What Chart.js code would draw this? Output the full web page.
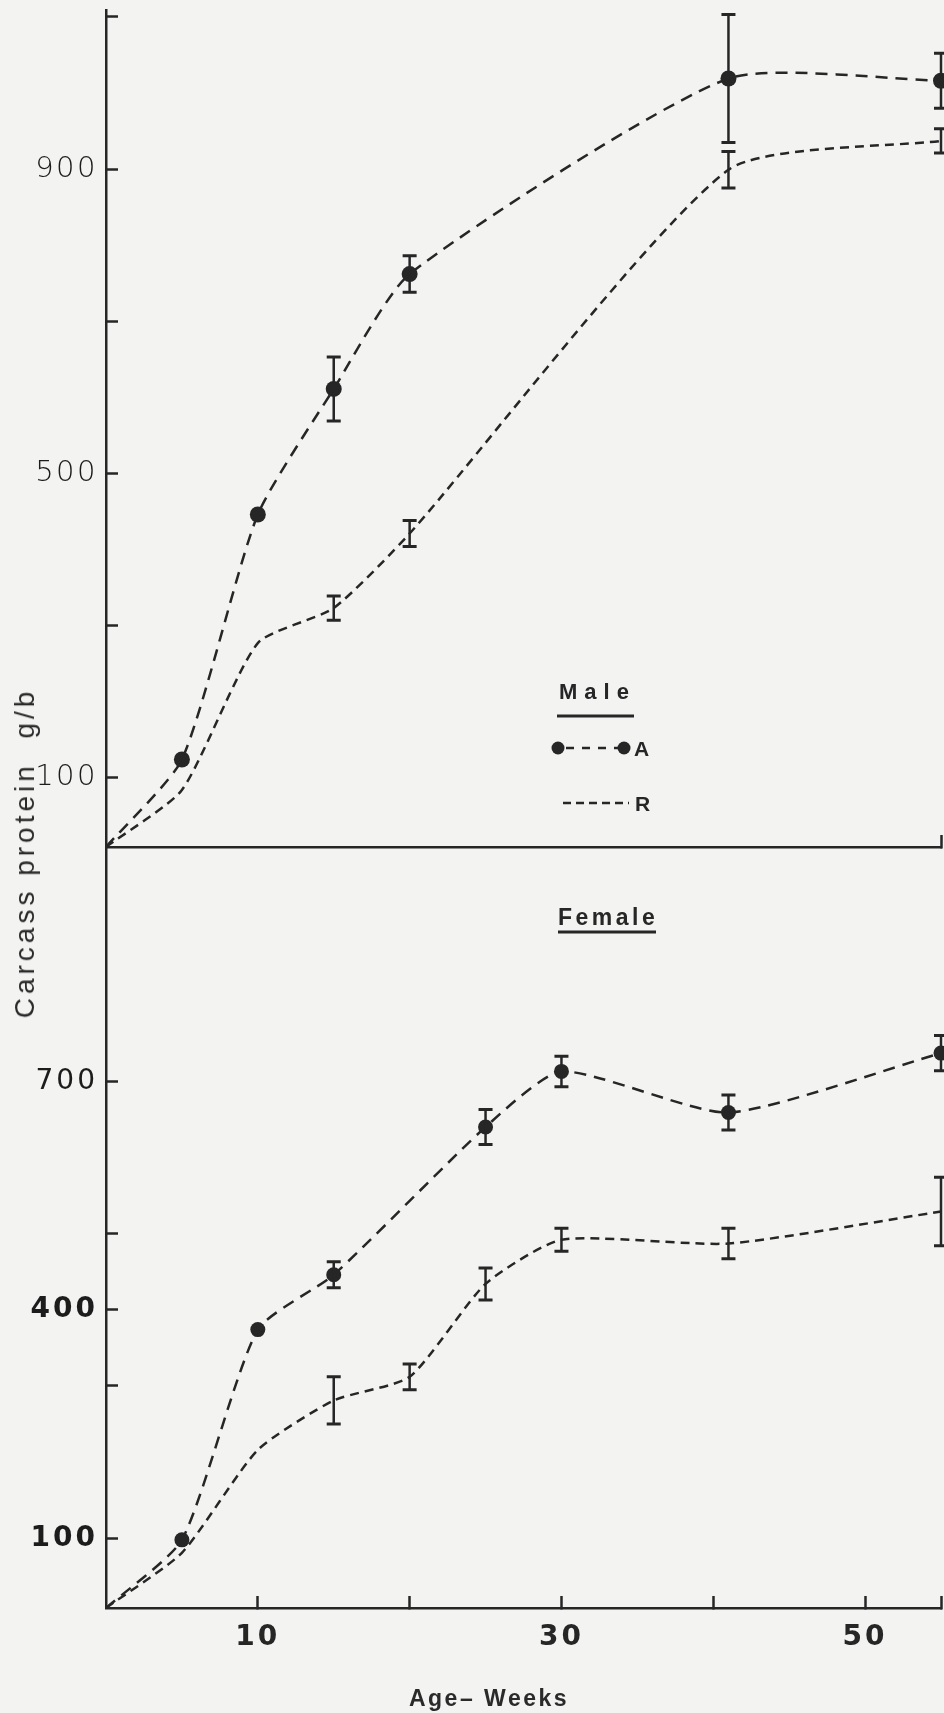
<!DOCTYPE html>
<html>
<head>
<meta charset="utf-8">
<script src="https://cdn.jsdelivr.net/npm/chart.js@4.4.0/dist/chart.umd.min.js"></script>
<style>
  html, body { margin: 0; padding: 0; }
  body { width: 944px; height: 1713px; overflow: hidden; position: relative; background: #f3f3f2; }
  canvas { position: absolute; left: 0; }
  #maleChart { top: -50px; }
  #femaleChart { top: 787px; }
  .axis-title { position: absolute; color: #2a2a2a; white-space: pre; line-height: 1; }
  #yTitle { left: 25px; top: 853px; transform: translate(-50%, -50%) rotate(-90deg); font: 28px "Liberation Sans", Arial, sans-serif; letter-spacing: 4px; }
  #xTitle { left: 489px; top: 1685px; transform: translateX(-50%); font: bold 23px "Liberation Sans", Arial, sans-serif; letter-spacing: 2.5px; }
</style>
</head>
<body>
<canvas id="maleChart" width="990" height="960"></canvas>
<canvas id="femaleChart" width="990" height="931"></canvas>
<div class="axis-title" id="yTitle">Carcass protein  g/b</div>
<div class="axis-title" id="xTitle">Age– Weeks</div>
<script>
const ink = '#262626';

// axis ticks (only some of them carry a label)
const weekTicks = [10, 20, 30, 40, 50, 55];
const weekLabels = [10, 30, 50];
const maleTicks = [100, 300, 500, 700, 900, 1100];
const maleLabels = [100, 500, 900];
const femaleTicks = [100, 300, 400, 500, 700];
const femaleLabels = [100, 400, 700];

// Male, groups A and R (mean, +/- error)
const maleWeeks = [0, 5, 10, 15, 20, 41, 55];
const maleA = [9, 124, 446, 611, 762, 1019, 1016];
const maleAErr = [0, 0, 0, 42, 24, 84, 36];
const maleR = [9, 84, 277, 323, 421, 899, 937];
const maleRErr = [0, 0, 0, 16, 17, 24, 16];

// Female
const femaleWeeksA = [0, 5, 10, 15, 25, 30, 41, 55];
const femaleA = [8.5, 98, 374, 446, 640, 713, 659, 737];
const femaleAErr = [0, 0, 0, 17, 23, 20, 23, 23];
const femaleWeeksR = [0, 5, 10, 15, 20, 25, 30, 41, 55];
const femaleR = [8.5, 81, 216, 281, 312, 434, 492, 487, 529];
const femaleRErr = [0, 0, 0, 31, 17, 21, 15, 20, 45];

function toPoints(weeks, values) {
    return weeks.map((w, i) => ({ x: w, y: values[i] }));
}

function lineA(weeks, values, errors, radius) {
    return {
        data: toPoints(weeks, values),
        errors: errors,
        borderColor: ink,
        borderWidth: 2.5,
        borderDash: [12, 8],
        pointRadius: weeks.map(w => w ? radius : 0),
        pointBackgroundColor: ink,
        pointBorderWidth: 0,
        tension: 0.2,
        fill: false,
        clip: false
    };
}

function lineR(weeks, values, errors) {
    return {
        data: toPoints(weeks, values),
        errors: errors,
        borderColor: ink,
        borderWidth: 2.5,
        borderDash: [9, 6],
        pointRadius: 0,
        tension: 0.2,
        fill: false,
        clip: false
    };
}

const errorBars = {
    id: 'errorBars',
    afterDatasetsDraw(chart) {
        const { ctx } = chart;
        const x = chart.scales.x, y = chart.scales.y;
        ctx.save();
        ctx.strokeStyle = ink;
        chart.data.datasets.forEach(ds => {
            if (!ds.errors) return;
            ds.data.forEach((pt, i) => {
                const e = ds.errors[i];
                if (!e) return;
                const px = x.getPixelForValue(pt.x);
                const top = y.getPixelForValue(pt.y + e);
                const bot = y.getPixelForValue(pt.y - e);
                ctx.lineWidth = 2.5;
                ctx.beginPath();
                ctx.moveTo(px, top);
                ctx.lineTo(px, bot);
                ctx.stroke();
                ctx.lineWidth = 3;
                ctx.beginPath();
                ctx.moveTo(px - 7, top); ctx.lineTo(px + 7, top);
                ctx.moveTo(px - 7, bot); ctx.lineTo(px + 7, bot);
                ctx.stroke();
            });
        });
        ctx.restore();
    }
};

const tickSpacing = {
    id: 'tickSpacing',
    beforeDraw(chart, args, opts) {
        chart.ctx.letterSpacing = (opts.px || 0) + 'px';
    }
};

// key drawn inside the male panel (page coordinates, shifted to this canvas)
const maleKey = {
    id: 'maleKey',
    afterDraw(chart) {
        const ctx = chart.ctx;
        const dy = chart.chartArea.top - 10;
        ctx.save();
        ctx.fillStyle = ink;
        ctx.strokeStyle = ink;
        ctx.font = 'bold 22px "Liberation Sans", Arial, sans-serif';
        ctx.letterSpacing = '7px';
        ctx.fillText('Male', 559, 699 + dy);
        ctx.lineWidth = 3;
        ctx.beginPath(); ctx.moveTo(557, 716 + dy); ctx.lineTo(634, 716 + dy); ctx.stroke();

        ctx.lineWidth = 2.5;
        ctx.setLineDash([8, 8]);
        ctx.beginPath(); ctx.moveTo(566, 748 + dy); ctx.lineTo(618, 748 + dy); ctx.stroke();
        ctx.setLineDash([]);
        [558, 624].forEach(cx => {
            ctx.beginPath(); ctx.arc(cx, 748 + dy, 6.5, 0, Math.PI * 2); ctx.fill();
        });
        ctx.letterSpacing = '0px';
        ctx.font = 'bold 21px "Liberation Sans", Arial, sans-serif';
        ctx.fillText('A', 634, 756 + dy);

        ctx.setLineDash([8, 5]);
        ctx.beginPath(); ctx.moveTo(563, 803 + dy); ctx.lineTo(629, 803 + dy); ctx.stroke();
        ctx.setLineDash([]);
        ctx.fillText('R', 635, 811 + dy);
        ctx.restore();
    }
};

const femaleKey = {
    id: 'femaleKey',
    afterDraw(chart) {
        const ctx = chart.ctx;
        const dy = chart.chartArea.top - 847;
        ctx.save();
        ctx.fillStyle = ink;
        ctx.strokeStyle = ink;
        ctx.font = 'bold 23px "Liberation Sans", Arial, sans-serif';
        ctx.letterSpacing = '3.5px';
        ctx.fillText('Female', 558, 925 + dy);
        ctx.lineWidth = 3;
        ctx.beginPath(); ctx.moveTo(558, 932 + dy); ctx.lineTo(656, 932 + dy); ctx.stroke();
        ctx.restore();
    }
};

function yAxis(min, max, ticks, labels, font) {
    return {
        type: 'linear',
        min: min,
        max: max,
        afterBuildTicks: axis => { axis.ticks = ticks.map(v => ({ value: v })); },
        afterFit: axis => { axis.width = 106; },
        border: { display: true, color: ink, width: 2.5 },
        grid: { drawOnChartArea: false, tickLength: -12, tickWidth: 2.5, tickColor: ink },
        ticks: {
            padding: 20,
            color: '#1c1c1c',
            font: font,
            callback: v => labels.includes(v) ? String(v) : ''
        }
    };
}

function xAxis(ticks, labels, height, showLabels) {
    return {
        type: 'linear',
        min: 0,
        max: 55,
        afterBuildTicks: axis => { axis.ticks = ticks.map(v => ({ value: v })); },
        afterFit: axis => { axis.height = height; },
        border: { display: true, color: ink, width: 2.5 },
        grid: { drawOnChartArea: false, tickLength: -12, tickWidth: 2.5, tickColor: ink },
        ticks: {
            display: showLabels,
            padding: 25,
            color: ink,
            font: { family: "'DejaVu Sans', sans-serif", size: 28, weight: 'bold' },
            callback: v => labels.includes(v) ? String(v) : ''
        }
    };
}

function baseOptions(padding, scales, spacing) {
    return {
        responsive: false,
        maintainAspectRatio: false,
        animation: false,
        events: [],
        layout: { padding: padding },
        plugins: {
            legend: { display: false },
            tooltip: { enabled: false },
            tickSpacing: { px: spacing }
        },
        scales: scales
    };
}

function renderMaleChart() {
    new Chart(document.getElementById('maleChart'), {
        type: 'line',
        data: {
            datasets: [
                lineA(maleWeeks, maleA, maleAErr, 8),
                lineR(maleWeeks, maleR, maleRErr)
            ]
        },
        options: baseOptions(
            { top: 60, right: 49, bottom: 63, left: 0 },
            {
                x: xAxis([55], [], 0, false),
                y: yAxis(9, 1109, maleTicks, maleLabels,
                    { family: "'DejaVu Sans', sans-serif", size: 29, weight: 200 })
            },
            2.5
        ),
        plugins: [errorBars, tickSpacing, maleKey]
    });
}

function renderFemaleChart() {
    new Chart(document.getElementById('femaleChart'), {
        type: 'line',
        data: {
            datasets: [
                lineA(femaleWeeksA, femaleA, femaleAErr, 7.5),
                lineR(femaleWeeksR, femaleR, femaleRErr)
            ]
        },
        options: baseOptions(
            { top: 60, right: 49, bottom: 50, left: 0 },
            {
                x: xAxis(weekTicks, weekLabels, 60, true),
                y: yAxis(8.5, 1007.6, femaleTicks, femaleLabels,
                    ctx => ({
                        family: "'DejaVu Sans', sans-serif",
                        size: 28,
                        weight: ctx.tick && ctx.tick.value === 700 ? 'normal' : 'bold'
                    }))
            },
            3
        ),
        plugins: [errorBars, tickSpacing, femaleKey]
    });
}

document.addEventListener('DOMContentLoaded', () => {
    renderMaleChart();
    renderFemaleChart();
});
</script>
</body>
</html>
